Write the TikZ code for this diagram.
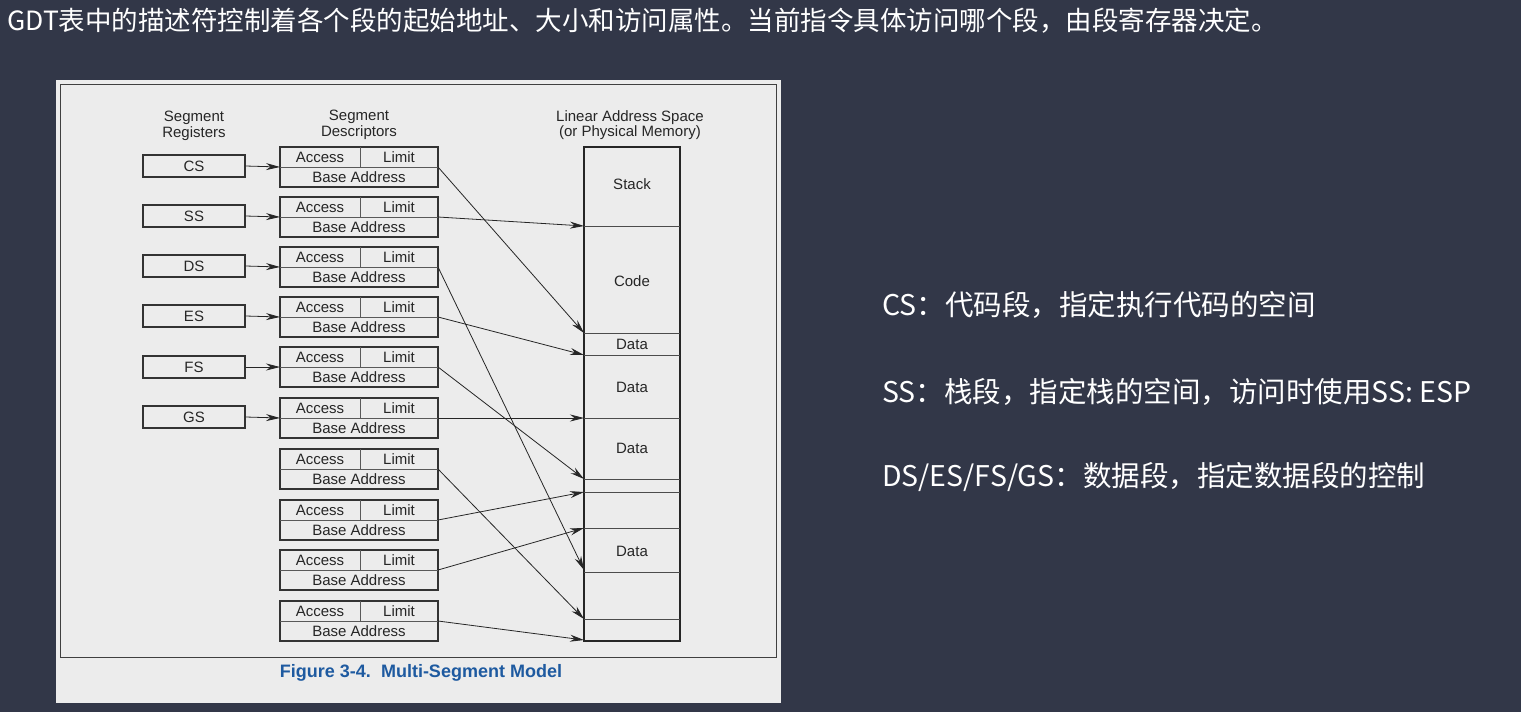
\documentclass[tikz,border=0pt]{standalone}
\usepackage{fontspec}
\setmainfont{Liberation Sans}
\newfontfamily\cjk{Noto Sans CJK SC}
\usetikzlibrary{arrows.meta,calc}
\begin{document}
\begin{tikzpicture}[x=1pt,y=-1pt,
  lbl/.style={font=\fontsize{15}{15.5}\selectfont, text=black!85},
  reg/.style={draw=black!80, line width=1.2pt, minimum width=102pt, minimum height=22pt, inner sep=0pt, lbl},
  arr/.style={draw=black!85, line width=0.8pt, -{Stealth[length=14pt,width=7pt]}},
  cn/.style={font=\cjk\fontsize{28.5}{28.5}\selectfont, text=white, anchor=west}]
\useasboundingbox (0,0) rectangle (1521,712);
\fill[fill={rgb,255:red,50;green,55;blue,72}] (0,0) rectangle (1521,712);
\fill[fill={rgb,255:red,236;green,236;blue,236}] (56,80) rectangle (781,703);
\draw[black!75, line width=1pt] (60,84) rectangle (776,657);
\node[cn, font=\cjk\fontsize{26.5}{26.5}\selectfont, inner sep=0pt] (hdr) at (7,21) {GDT表中的描述符控制着各个段的起始地址、大小和访问属性。当前指令具体访问哪个段，由段寄存器决定。};
\node[cn, inner sep=0pt] (t1) at (882,305) {CS：代码段，指定执行代码的空间};
\node[cn, inner sep=0pt] (t2) at (882,392) {SS：栈段，指定栈的空间，访问时使用SS: ESP};
\node[cn, inner sep=0pt] (t3) at (882,477) {DS/ES/FS/GS：数据段，指定数据段的控制};
\node[font=\bfseries\fontsize{18}{18}\selectfont, text={rgb,255:red,30;green,90;blue,160}] (cap) at (421,673) {Figure 3-4.\ \ Multi-Segment Model};
\node[lbl, align=center] (h1) at (194,126) {Segment\\Registers};
\node[lbl, align=center] (h2) at (359,125) {Segment\\Descriptors};
\node[lbl, align=center] (h3) at (630,125) {Linear Address Space\\(or Physical Memory)};
% memory
\draw[black!85, line width=1.3pt] (584,147) rectangle (680,641);
\foreach \y/\n in {226/m1,333/m2,355/m3,418/m4,479/m5,492/m6,528/m7,572/m8,619/m9} {
  \draw[black!70, line width=0.7pt] (584,\y) -- (680,\y);
  \coordinate (\n) at (584,\y);
}
\coordinate (m10) at (584,640);
\coordinate (m8b) at (584,570);
\node[lbl] (s1) at (632,184) {Stack};
\node[lbl] (s2) at (632,281) {Code};
\node[lbl] (s3) at (632,344) {Data};
\node[lbl] (s4) at (632,387) {Data};
\node[lbl] (s5) at (632,448) {Data};
\node[lbl] (s6) at (632,551) {Data};
% descriptors
\foreach \i/\t in {1/147,2/197,3/247,4/297,5/347,6/398,7/449,8/500,9/550,10/601} {
  \draw[black!80, line width=1.2pt] (280,\t) rectangle (438,\t+40);
  \draw[black!65, line width=0.7pt] (280,\t+20) -- (438,\t+20) (360,\t) -- (360,\t+20);
  \node[lbl] (a\i) at (320,\t+10.5) {Access};
  \node[lbl] (l\i) at (399,\t+10.5) {Limit};
  \node[lbl] (b\i) at (359,\t+30.5) {Base Address};
  \coordinate (d\i) at (438,\t+20);
  \coordinate (dl\i) at (280,\t+20);
}
% registers
\foreach \i/\n/\y in {1/CS/166,2/SS/216,3/DS/266,4/ES/316,5/FS/367,6/GS/417} {
  \node[reg] (r\i) at (194,\y) {\n};
  \draw[arr] (r\i.east) -- (dl\i);
}
\draw[arr] (d1) -- (m2);
\draw[arr] (d2) -- (m1);
\draw[arr] (d3) -- (m8b);
\draw[arr] (d4) -- (m3);
\draw[arr] (d5) -- (m5);
\draw[arr] (d6) -- (m4);
\draw[arr] (d7) -- (m9);
\draw[arr] (d8) -- (m6);
\draw[arr] (d9) -- (m7);
\draw[arr] (d10) -- (m10);
\end{tikzpicture}
\end{document}
